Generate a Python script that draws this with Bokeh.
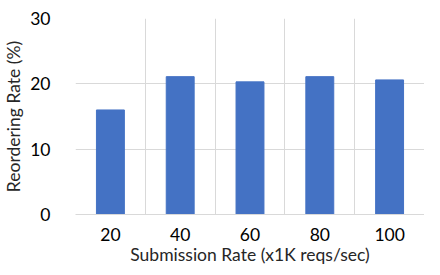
from bokeh.plotting import figure
from bokeh.models import FixedTicker, Range1d, ColumnDataSource
from bokeh.embed import file_html
from bokeh.resources import INLINE

rates = ["20", "40", "60", "80", "100"]
reordering = [16.0, 21.1, 20.3, 21.1, 20.6]
y_ticks = [0, 10, 20, 30]

xs = list(range(1, len(rates) + 1))
src = ColumnDataSource(dict(x=xs, top=reordering))

p = figure(width=424, height=267, output_backend="svg", toolbar_location=None,
           x_range=Range1d(0.5, len(rates) + 0.5), y_range=Range1d(0, 30),
           min_border_left=60, min_border_right=0, min_border_top=18, min_border_bottom=51)
p.outline_line_color = None

p.vbar(x="x", top="top", width=0.4, source=src, color="#4472C4")

font = "Lato"
p.xaxis.ticker = FixedTicker(ticks=xs)
p.xaxis.major_label_overrides = {x: r for x, r in zip(xs, rates)}
p.xgrid.ticker = FixedTicker(ticks=[x + 0.5 for x in range(0, len(rates) + 1)])
p.yaxis.ticker = FixedTicker(ticks=y_ticks)

for ax in (p.xaxis[0], p.yaxis[0]):
    ax.major_tick_line_color = None
    ax.minor_tick_line_color = None
    ax.major_label_text_font = font
    ax.major_label_text_font_size = "17.5px"
    ax.major_label_text_color = "#000000"
    ax.axis_label_text_font = font
    ax.axis_label_text_font_size = "17.5px"
    ax.axis_label_text_font_style = "normal"
    ax.axis_label_text_color = "#262626"

p.xaxis.axis_line_color = "#d9d9d9"
p.yaxis.axis_line_color = None
p.xaxis.major_label_standoff = 7
p.yaxis.major_label_standoff = 19
p.xaxis.axis_label = "Submission Rate (x1K reqs/sec)"
p.yaxis.axis_label = "Reordering Rate (%)"
p.xaxis.axis_label_standoff = 0
p.yaxis.axis_label_standoff = 3

p.xgrid.grid_line_color = "#d9d9d9"
p.ygrid.grid_line_color = "#d9d9d9"

open("out.html", "w").write(file_html(p, INLINE))
